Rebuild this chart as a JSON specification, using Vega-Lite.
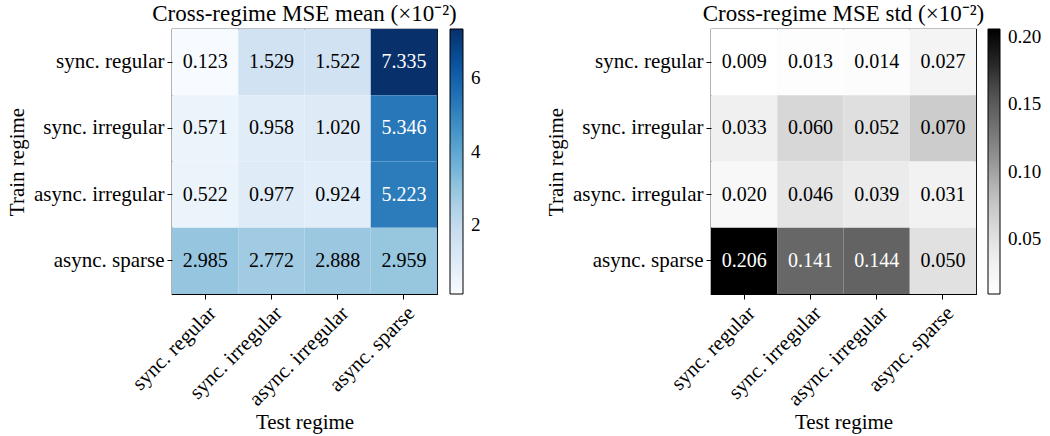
{
  "$schema": "https://vega.github.io/schema/vega-lite/v6.json",
  "padding": {"left": 5, "top": 2, "right": 5, "bottom": 3},
  "background": "white",
  "config": {
    "font": "Liberation Serif",
    "view": {"stroke": "black", "strokeWidth": 1.2},
    "axis": {
      "labelFont": "Liberation Serif", "titleFont": "Liberation Serif",
      "labelFontSize": 21, "titleFontSize": 21, "titleFontWeight": "normal",
      "labelColor": "black", "titleColor": "black", "tickColor": "black",
      "domain": false, "tickSize": 5, "labelPadding": 3, "grid": false
    },
    "title": {"font": "Liberation Serif", "fontSize": 23, "fontWeight": "normal", "color": "black", "offset": 3},
    "legend": {"labelFont": "Liberation Serif", "labelFontSize": 19, "labelColor": "black"},
    "concat": {"spacing": 62}
  },
  "data": {"values": [
    {"train": "sync. regular", "test": "sync. regular", "mean": 0.123, "std": 0.009},
    {"train": "sync. regular", "test": "sync. irregular", "mean": 1.529, "std": 0.013},
    {"train": "sync. regular", "test": "async. irregular", "mean": 1.522, "std": 0.014},
    {"train": "sync. regular", "test": "async. sparse", "mean": 7.335, "std": 0.027},
    {"train": "sync. irregular", "test": "sync. regular", "mean": 0.571, "std": 0.033},
    {"train": "sync. irregular", "test": "sync. irregular", "mean": 0.958, "std": 0.060},
    {"train": "sync. irregular", "test": "async. irregular", "mean": 1.020, "std": 0.052},
    {"train": "sync. irregular", "test": "async. sparse", "mean": 5.346, "std": 0.070},
    {"train": "async. irregular", "test": "sync. regular", "mean": 0.522, "std": 0.020},
    {"train": "async. irregular", "test": "sync. irregular", "mean": 0.977, "std": 0.046},
    {"train": "async. irregular", "test": "async. irregular", "mean": 0.924, "std": 0.039},
    {"train": "async. irregular", "test": "async. sparse", "mean": 5.223, "std": 0.031},
    {"train": "async. sparse", "test": "sync. regular", "mean": 2.985, "std": 0.206},
    {"train": "async. sparse", "test": "sync. irregular", "mean": 2.772, "std": 0.141},
    {"train": "async. sparse", "test": "async. irregular", "mean": 2.888, "std": 0.144},
    {"train": "async. sparse", "test": "async. sparse", "mean": 2.959, "std": 0.050}
  ]},
  "hconcat": [
    {
      "width": 265, "height": 265,
      "title": {"text": "Cross-regime MSE mean (×10⁻²)"},
      "encoding": {
        "x": {"field": "test", "type": "nominal", "sort": ["sync. regular", "sync. irregular", "async. irregular", "async. sparse"], "title": "Test regime", "scale": {"paddingInner": 0, "paddingOuter": 0}, "axis": {"labelAngle": -45, "titlePadding": 2}},
        "y": {"field": "train", "type": "nominal", "sort": ["sync. regular", "sync. irregular", "async. irregular", "async. sparse"], "title": "Train regime", "scale": {"paddingInner": 0, "paddingOuter": 0}, "axis": {"titlePadding": 6}}
      },
      "layer": [
        {"mark": {"type": "rect", "stroke": null}, "encoding": {"color": {"field": "mean", "type": "quantitative",
          "scale": {"domain": [0.123, 1.0245, 1.926, 2.8275, 3.729, 4.6305, 5.532, 6.4335, 7.335], "range": ["#f7fbff", "#deebf7", "#c6dbef", "#9ecae1", "#6baed6", "#4292c6", "#2171b5", "#08519c", "#08306b"], "interpolate": "rgb"},
          "legend": {"title": null, "values": [2, 4, 6], "format": "d", "gradientLength": 265, "gradientThickness": 13, "offset": 13, "gradientStrokeColor": "black", "gradientStrokeWidth": 1, "labelOffset": 8, "labelOverlap": false, "labelFlush": false}}}},
        {"mark": {"type": "text", "fontSize": 20, "font": "Liberation Serif"}, "encoding": {"text": {"field": "mean", "type": "quantitative", "format": ".3f"}, "color": {"condition": {"test": "datum.mean > 4", "value": "white"}, "value": "black"}}}
      ]
    },
    {
      "width": 265, "height": 265,
      "title": {"text": "Cross-regime MSE std (×10⁻²)"},
      "encoding": {
        "x": {"field": "test", "type": "nominal", "sort": ["sync. regular", "sync. irregular", "async. irregular", "async. sparse"], "title": "Test regime", "scale": {"paddingInner": 0, "paddingOuter": 0}, "axis": {"labelAngle": -45, "titlePadding": 2}},
        "y": {"field": "train", "type": "nominal", "sort": ["sync. regular", "sync. irregular", "async. irregular", "async. sparse"], "title": "Train regime", "scale": {"paddingInner": 0, "paddingOuter": 0}, "axis": {"titlePadding": 6}}
      },
      "layer": [
        {"mark": {"type": "rect", "stroke": null}, "encoding": {"color": {"field": "std", "type": "quantitative",
          "scale": {"domain": [0.009, 0.033625, 0.05825, 0.082875, 0.1075, 0.132125, 0.15675, 0.181375, 0.206], "range": ["#ffffff", "#f0f0f0", "#d9d9d9", "#bdbdbd", "#969696", "#737373", "#525252", "#252525", "#000000"], "interpolate": "rgb"},
          "legend": {"title": null, "values": [0.05, 0.10, 0.15, 0.20], "format": ".2f", "gradientLength": 265, "gradientThickness": 12, "offset": 12, "gradientStrokeColor": "black", "gradientStrokeWidth": 1, "labelOffset": 8, "labelOverlap": false, "labelFlush": false}}}},
        {"mark": {"type": "text", "fontSize": 20, "font": "Liberation Serif"}, "encoding": {"text": {"field": "std", "type": "quantitative", "format": ".3f"}, "color": {"condition": {"test": "datum.std > 0.1", "value": "white"}, "value": "black"}}}
      ]
    }
  ],
  "resolve": {"scale": {"color": "independent"}}
}
